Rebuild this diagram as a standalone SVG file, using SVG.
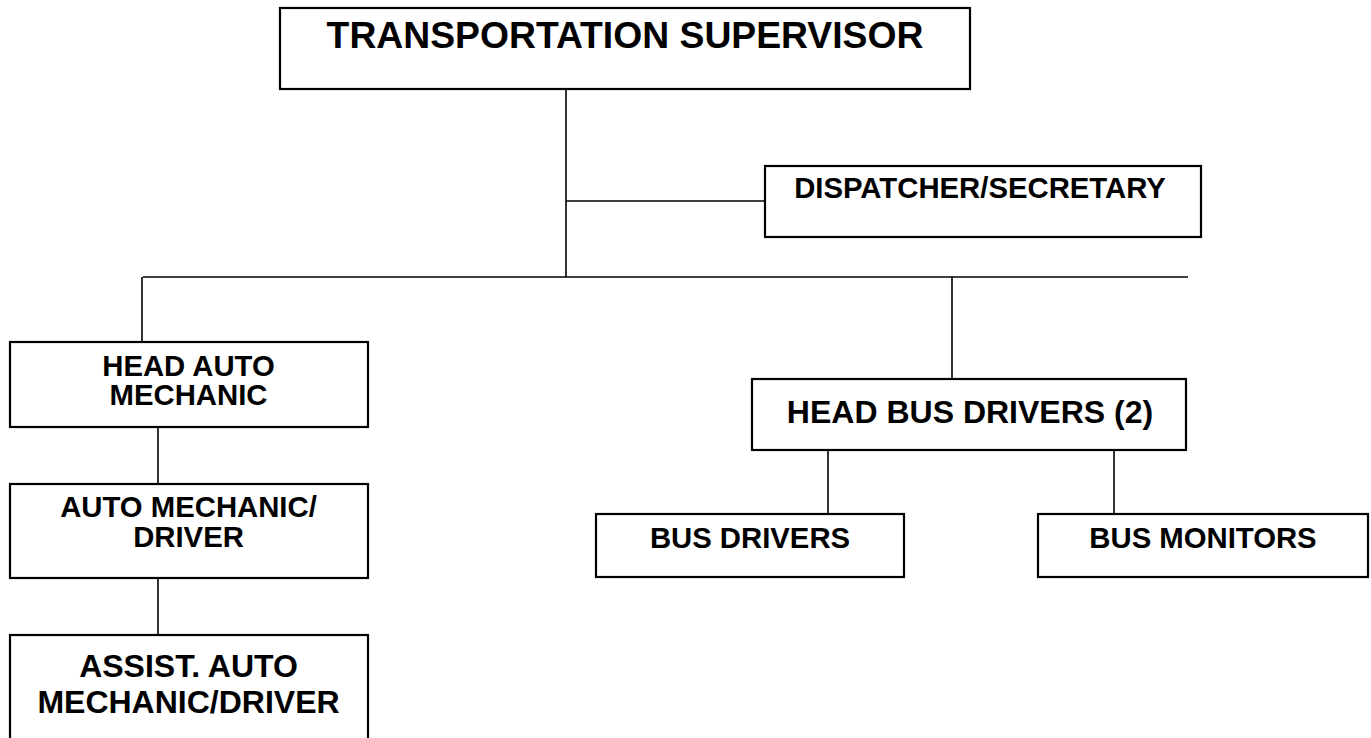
<svg xmlns="http://www.w3.org/2000/svg" width="1371" height="738" viewBox="0 0 1371 738">
<style>
.box{fill:#fff;stroke:#000;stroke-width:2.2}
.ln{fill:none;stroke:#000;stroke-width:1.6}
text{font-family:"Liberation Sans",Arial,sans-serif;font-weight:bold;fill:#000;text-anchor:middle}
.s{font-size:29.3px}
.m{font-size:32px}
.l{font-size:37.3px}
</style>
<rect width="1371" height="738" fill="#fff"/>
<g id="connectors">
<path class="ln" d="M566 89V277"/>
<path class="ln" d="M566 201H765"/>
<path class="ln" d="M143 277H1188"/>
<path class="ln" d="M142 277V342"/>
<path class="ln" d="M952 277V379"/>
<path class="ln" d="M158 427V484"/>
<path class="ln" d="M158 578V635"/>
<path class="ln" d="M828 450V514"/>
<path class="ln" d="M1114 450V514"/>
</g>
<g id="transportation-supervisor">
<rect class="box" x="280" y="8" width="690" height="81"/>
<text class="l" x="625" y="48">TRANSPORTATION SUPERVISOR</text>
</g>
<g id="dispatcher-secretary">
<rect class="box" x="765" y="166" width="436" height="71"/>
<text class="s" x="980" y="198">DISPATCHER/SECRETARY</text>
</g>
<g id="head-auto-mechanic">
<rect class="box" x="10" y="342" width="358" height="85"/>
<text class="s" x="188.5" y="376">HEAD AUTO</text>
<text class="s" x="188.5" y="405">MECHANIC</text>
</g>
<g id="auto-mechanic-driver">
<rect class="box" x="10" y="484" width="358" height="94"/>
<text class="s" x="188.5" y="517">AUTO MECHANIC/</text>
<text class="s" x="188.5" y="547">DRIVER</text>
</g>
<g id="assist-auto-mechanic-driver">
<rect class="box" x="10" y="635" width="358" height="115"/>
<text class="m" x="188.5" y="677">ASSIST. AUTO</text>
<text class="m" x="188.5" y="713">MECHANIC/DRIVER</text>
</g>
<g id="head-bus-drivers">
<rect class="box" x="752" y="379" width="434" height="71"/>
<text class="m" x="970" y="423">HEAD BUS DRIVERS (2)</text>
</g>
<g id="bus-drivers">
<rect class="box" x="596" y="514" width="308" height="63"/>
<text class="s" x="750" y="548">BUS DRIVERS</text>
</g>
<g id="bus-monitors">
<rect class="box" x="1038" y="514" width="330" height="63"/>
<text class="s" x="1203" y="548">BUS MONITORS</text>
</g>
</svg>
